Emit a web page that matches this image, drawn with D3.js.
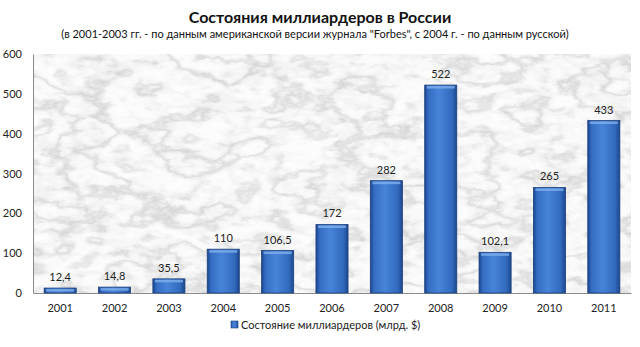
<!DOCTYPE html>
<html><head><meta charset="utf-8">
<script src="https://cdn.jsdelivr.net/npm/d3@7"></script>
<style>body{margin:0;background:#fff}svg{display:block}</style>
</head><body>
<script>
const years = ["2001","2002","2003","2004","2005","2006","2007","2008","2009","2010","2011"];
const values = [12.4,14.8,35.5,110,106.5,172,282,522,102.1,265,433];
const labels = ["12,4","14,8","35,5","110","106,5","172","282","522","102,1","265","433"];
const yTicks = [0,100,200,300,400,500,600];
const title = "Состояния миллиардеров в России";
const subtitle = "(в 2001-2003 гг. - по данным американской версии журнала \"Forbes\", с 2004 г. - по данным русской)";
const legendLabel = "Состояние миллиардеров (млрд. $)";

const W=640,H=347;
const m={l:33,r:9,t:54,b:54};
const font="Lato, 'Open Sans', sans-serif";
const svg=d3.select("body").append("svg").attr("width",W).attr("height",H).style("font-family",font);
const defs=svg.append("defs");
const f=defs.append("filter").attr("id","marble").attr("x",0).attr("y",0).attr("width","100%").attr("height","100%");
f.append("feTurbulence").attr("type","fractalNoise").attr("baseFrequency","0.018 0.035").attr("numOctaves",6).attr("seed",11).attr("result","n");
const ct=f.append("feComponentTransfer").attr("in","n").attr("result","g");
["feFuncR","feFuncG","feFuncB"].forEach(fn=>ct.append(fn).attr("type","table").attr("tableValues","0.96 0.9 0.97 0.72 0.95 0.99 0.93 0.66 0.94 0.98 0.9 0.75 0.96"));
ct.append("feFuncA").attr("type","table").attr("tableValues","1 1");
f.append("feColorMatrix").attr("in","g").attr("type","saturate").attr("values","0");

const gr=defs.append("linearGradient").attr("id","bar").attr("x1","0").attr("x2","1").attr("y1","0").attr("y2","0");
[[0,"#1b4690"],[0.12,"#356dc2"],[0.45,"#4784d9"],[0.85,"#326abd"],[1,"#1c478e"]].forEach(s=>gr.append("stop").attr("offset",s[0]).attr("stop-color",s[1]));

const x=d3.scaleBand().domain(years).range([m.l,W-m.r]).paddingInner(0.41).paddingOuter(0.205);
const y=d3.scaleLinear().domain([0,600]).range([H-m.b,m.t]);

svg.append("rect").attr("x",m.l).attr("y",m.t).attr("width",W-m.r-m.l).attr("height",H-m.b-m.t).attr("fill","#eee").attr("filter","url(#marble)");

// axes
const ya=svg.append("g").attr("transform",`translate(${m.l},0)`).call(d3.axisLeft(y).tickValues(yTicks).tickSize(0).tickPadding(11));
ya.select(".domain").attr("stroke","#8c8c8c");
ya.selectAll("text").attr("font-size",11).attr("fill","#222").attr("font-family",font);
const xa=svg.append("g").attr("transform",`translate(0,${H-m.b})`).call(d3.axisBottom(x).tickSize(0).tickPadding(11));
xa.select(".domain").attr("stroke","#8c8c8c");
xa.selectAll("text").attr("font-size",11).attr("fill","#222").attr("font-family",font);

const bars=svg.append("g").selectAll("g").data(years).join("g");
bars.append("rect").attr("x",d=>x(d)).attr("width",x.bandwidth())
 .attr("y",(d,i)=>y(values[i])).attr("height",(d,i)=>y(0)-y(values[i]))
 .attr("fill","url(#bar)").attr("stroke","#1c3f7a").attr("stroke-width",0.8);
bars.append("rect").attr("x",d=>x(d)+2).attr("width",x.bandwidth()-4)
 .attr("y",(d,i)=>y(values[i])+1).attr("height",2.5).attr("fill","#7fb0ec").attr("opacity",0.8);
bars.append("text").attr("x",d=>x(d)+x.bandwidth()/2).attr("y",(d,i)=>y(values[i])-7)
 .attr("text-anchor","middle").attr("font-size",11).attr("fill","#222").text((d,i)=>labels[i]);

svg.append("text").attr("x",320).attr("y",23).attr("text-anchor","middle").attr("font-size",16).attr("font-weight","bold").attr("fill","#111").text(title);
svg.append("text").attr("x",315).attr("y",38).attr("text-anchor","middle").attr("font-size",11).attr("fill","#111").text(subtitle);

svg.append("rect").attr("x",231).attr("y",321).attr("width",7).attr("height",7).attr("fill","url(#bar)").attr("stroke","#1c3f7a").attr("stroke-width",0.6);
svg.append("text").attr("x",241).attr("y",328.5).attr("font-size",11).attr("fill","#222").text(legendLabel);
</script>
</body></html>
